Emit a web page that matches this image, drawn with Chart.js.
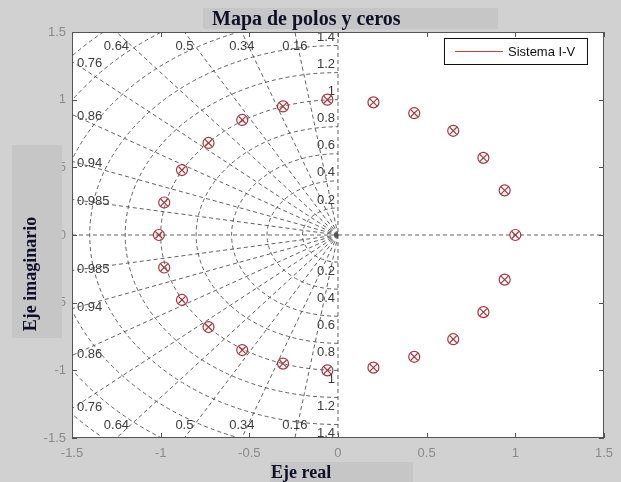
<!DOCTYPE html>
<html>
<head>
<meta charset="utf-8">
<title>Mapa de polos y ceros</title>
<script src="https://cdn.jsdelivr.net/npm/chart.js@4.4.1/dist/chart.umd.min.js"></script>
<style>
  html, body { margin: 0; padding: 0; background: #d1d1d1; }
  canvas { display: block; }
</style>
</head>
<body>
<canvas id="pz" width="621" height="482"></canvas>
<script>
// Poles of the I-V system (real and imaginary parts)
const poleRe = [1.00, 0.94, 0.82, 0.65, 0.43, 0.20, -0.06, -0.31, -0.54, -0.73, -0.88, -0.98, -1.01,
                -0.98, -0.88, -0.73, -0.54, -0.31, -0.06, 0.20, 0.43, 0.65, 0.82, 0.94];
const poleIm = [0.00, 0.33, 0.57, 0.77, 0.90, 0.98, 1.00, 0.95, 0.85, 0.68, 0.48, 0.24, 0.00,
                -0.24, -0.48, -0.68, -0.85, -0.95, -1.00, -0.98, -0.90, -0.77, -0.57, -0.33];
// Zeros of the I-V system (they sit on top of the poles)
const zeroRe = [1.00, 0.94, 0.82, 0.65, 0.43, 0.20, -0.06, -0.31, -0.54, -0.73, -0.88, -0.98, -1.01,
                -0.98, -0.88, -0.73, -0.54, -0.31, -0.06, 0.20, 0.43, 0.65, 0.82, 0.94];
const zeroIm = [0.00, 0.33, 0.57, 0.77, 0.90, 0.98, 1.00, 0.95, 0.85, 0.68, 0.48, 0.24, 0.00,
                -0.24, -0.48, -0.68, -0.85, -0.95, -1.00, -0.98, -0.90, -0.77, -0.57, -0.33];

// s-plane grid: damping ratio rays and natural frequency semicircles
const dampingRatios = [0.16, 0.34, 0.5, 0.64, 0.76, 0.86, 0.94, 0.985];
const naturalFreqs = [0.2, 0.4, 0.6, 0.8, 1, 1.2, 1.4, 1.6, 1.8, 2];

// Axis ticks
const axisTicks = [-1.5, -1, -0.5, 0, 0.5, 1, 1.5];
const tickText = ['-1.5', '-1', '-0.5', '0', '0.5', '1', '1.5'];

const seriesName = 'Sistema I-V';
const titleText = 'Mapa de polos y ceros';
const xTitle = 'Eje real';
const yTitle = 'Eje imaginario';

const markerColor = '#a8363c';
const legendLineColor = '#d03c3c';
const gridColor = 'rgba(80,80,80,0.9)';
const figureBg = '#d1d1d1';
const labelBoxBg = '#c6c6c6';
const sansFont = "'Liberation Sans', Arial, sans-serif";
const serifFont = "'Liberation Serif', 'Times New Roman', serif";

const toPoints = (re, im) => re.map((x, i) => ({ x: x, y: im[i] }));

const sgridPlugin = {
  id: 'sgrid',
  beforeDraw(chart) {
    const { ctx, chartArea: a } = chart;
    ctx.save();
    ctx.fillStyle = figureBg;
    ctx.fillRect(0, 0, chart.width, chart.height);
    ctx.fillStyle = '#ffffff';
    ctx.fillRect(a.left, a.top, a.right - a.left, a.bottom - a.top);
    ctx.restore();
  },
  beforeDatasetsDraw(chart) {
    const { ctx, chartArea: a } = chart;
    const xs = chart.scales.x, ys = chart.scales.y;
    const X = v => xs.getPixelForValue(v);
    const Y = v => ys.getPixelForValue(v);
    const ox = X(0), oy = Y(0);

    ctx.save();
    ctx.beginPath();
    ctx.rect(a.left, a.top, a.right - a.left, a.bottom - a.top);
    ctx.clip();
    ctx.strokeStyle = gridColor;
    ctx.lineWidth = 1;
    ctx.setLineDash([4, 3]);

    // real and imaginary axes
    ctx.beginPath(); ctx.moveTo(a.left, oy); ctx.lineTo(a.right, oy); ctx.stroke();
    ctx.beginPath(); ctx.moveTo(ox, a.top); ctx.lineTo(ox, a.bottom); ctx.stroke();

    // constant damping rays
    dampingRatios.forEach(z => {
      const s = Math.sqrt(1 - z * z);
      [1, -1].forEach(sg => {
        ctx.beginPath();
        ctx.moveTo(ox, oy);
        ctx.lineTo(X(-z * 4), Y(sg * s * 4));
        ctx.stroke();
      });
    });

    // constant natural frequency semicircles (left half plane)
    naturalFreqs.forEach(w => {
      const rx = Math.abs(X(w) - ox), ry = Math.abs(oy - Y(w));
      ctx.beginPath();
      ctx.ellipse(ox, oy, rx, ry, 0, Math.PI / 2, Math.PI * 1.5);
      ctx.stroke();
    });

    // grid labels
    ctx.setLineDash([]);
    ctx.fillStyle = '#3c3c3c';
    ctx.font = '13px ' + sansFont;
    ctx.textBaseline = 'middle';
    const lim = 1.5;
    dampingRatios.forEach(z => {
      const s = Math.sqrt(1 - z * z);
      const tLeft = lim / z, tTop = lim / s;
      const txt = String(z);
      if (tTop < tLeft) {
        ctx.textAlign = 'center';
        const px = X(-z * tTop);
        ctx.fillText(txt, px, a.top + 14);
        ctx.fillText(txt, px, a.bottom - 13);
      } else {
        ctx.textAlign = 'left';
        const yv = s * tLeft;
        ctx.fillText(txt, a.left + 5, Y(yv) + 2);
        ctx.fillText(txt, a.left + 5, Y(-yv) - 1);
      }
    });
    ctx.textAlign = 'right';
    naturalFreqs.filter(w => w < lim).forEach(w => {
      const txt = String(w);
      ctx.fillText(txt, ox - 3, Y(w) - 8);
      ctx.fillText(txt, ox - 3, Y(-w) + 9);
    });
    ctx.restore();
  },
  afterDatasetsDraw(chart) {
    const { ctx, chartArea: a } = chart;
    const xs = chart.scales.x, ys = chart.scales.y;
    ctx.save();
    ctx.strokeStyle = '#555555';
    ctx.lineWidth = 1;
    ctx.strokeRect(Math.round(a.left) + 0.5, Math.round(a.top) + 0.5,
                   Math.round(a.right - a.left) - 1, Math.round(a.bottom - a.top) - 1);
    // inward tick marks on all four sides
    const tl = 5;
    ctx.beginPath();
    axisTicks.forEach(v => {
      const px = Math.round(xs.getPixelForValue(v)) + 0.5;
      ctx.moveTo(px, a.bottom); ctx.lineTo(px, a.bottom - tl);
      ctx.moveTo(px, a.top); ctx.lineTo(px, a.top + tl);
      const py = Math.round(ys.getPixelForValue(v)) + 0.5;
      ctx.moveTo(a.left, py); ctx.lineTo(a.left + tl, py);
      ctx.moveTo(a.right, py); ctx.lineTo(a.right - tl, py);
    });
    ctx.stroke();

    // legend
    const bx = a.right - 160, by = a.top + 6, bw = 143, bh = 26;
    ctx.fillStyle = '#ffffff';
    ctx.fillRect(bx, by, bw, bh);
    ctx.strokeStyle = '#111111';
    ctx.strokeRect(bx + 0.5, by + 0.5, bw, bh);
    ctx.strokeStyle = legendLineColor;
    ctx.lineWidth = 1.2;
    ctx.beginPath();
    ctx.moveTo(bx + 11, by + 13.5); ctx.lineTo(bx + 59, by + 13.5);
    ctx.stroke();
    ctx.fillStyle = '#111111';
    ctx.font = '13px ' + sansFont;
    ctx.textAlign = 'left';
    ctx.textBaseline = 'middle';
    ctx.fillText(seriesName, bx + 64, by + 14);
    ctx.restore();
  },
  afterDraw(chart) {
    const { ctx } = chart;
    ctx.save();
    ctx.fillStyle = labelBoxBg;
    // title
    ctx.fillRect(203, 8, 295, 21);
    // y label box
    ctx.fillRect(12, 145, 50, 193);
    // x label box
    ctx.fillRect(270, 462, 143, 20);

    ctx.fillStyle = '#10102a';
    ctx.font = 'bold 20px ' + serifFont;
    ctx.textAlign = 'left';
    ctx.textBaseline = 'alphabetic';
    ctx.fillText(titleText, 212, 25);

    ctx.font = 'bold 18px ' + serifFont;
    ctx.fillText(xTitle, 271, 478);

    ctx.translate(36, 274);
    ctx.rotate(-Math.PI / 2);
    ctx.textAlign = 'center';
    ctx.fillText(yTitle, 0, 0);
    ctx.restore();
  }
};

const tickOptions = {
  color: '#8a8a8a',
  font: { size: 13, family: sansFont },
  autoSkip: false,
  maxRotation: 0,
  callback: v => tickText[axisTicks.indexOf(v)]
};

new Chart(document.getElementById('pz'), {
  type: 'scatter',
  data: {
    datasets: [
      {
        label: seriesName + ' (polos)',
        data: toPoints(poleRe, poleIm),
        pointStyle: 'crossRot',
        pointRadius: 5,
        borderColor: markerColor,
        backgroundColor: 'rgba(0,0,0,0)',
        borderWidth: 1.2
      },
      {
        label: seriesName + ' (ceros)',
        data: toPoints(zeroRe, zeroIm),
        pointStyle: 'circle',
        pointRadius: 5.5,
        borderColor: markerColor,
        backgroundColor: 'rgba(0,0,0,0)',
        borderWidth: 1.2
      }
    ]
  },
  options: {
    responsive: false,
    animation: false,
    events: [],
    layout: { padding: { left: 0, right: 17, top: 32, bottom: 0 } },
    plugins: { legend: { display: false }, tooltip: { enabled: false }, title: { display: false } },
    scales: {
      x: {
        type: 'linear', min: -1.5, max: 1.5,
        afterBuildTicks: s => { s.ticks = axisTicks.map(v => ({ value: v })); },
        afterFit: s => { s.height = 44; },
        grid: { display: false, drawTicks: false },
        border: { display: false },
        ticks: Object.assign({ padding: 8 }, tickOptions)
      },
      y: {
        type: 'linear', min: -1.5, max: 1.5,
        afterBuildTicks: s => { s.ticks = axisTicks.map(v => ({ value: v })); },
        afterFit: s => { s.width = 72; },
        grid: { display: false, drawTicks: false },
        border: { display: false },
        ticks: Object.assign({ padding: 6 }, tickOptions)
      }
    }
  },
  plugins: [sgridPlugin]
});
</script>
</body>
</html>
